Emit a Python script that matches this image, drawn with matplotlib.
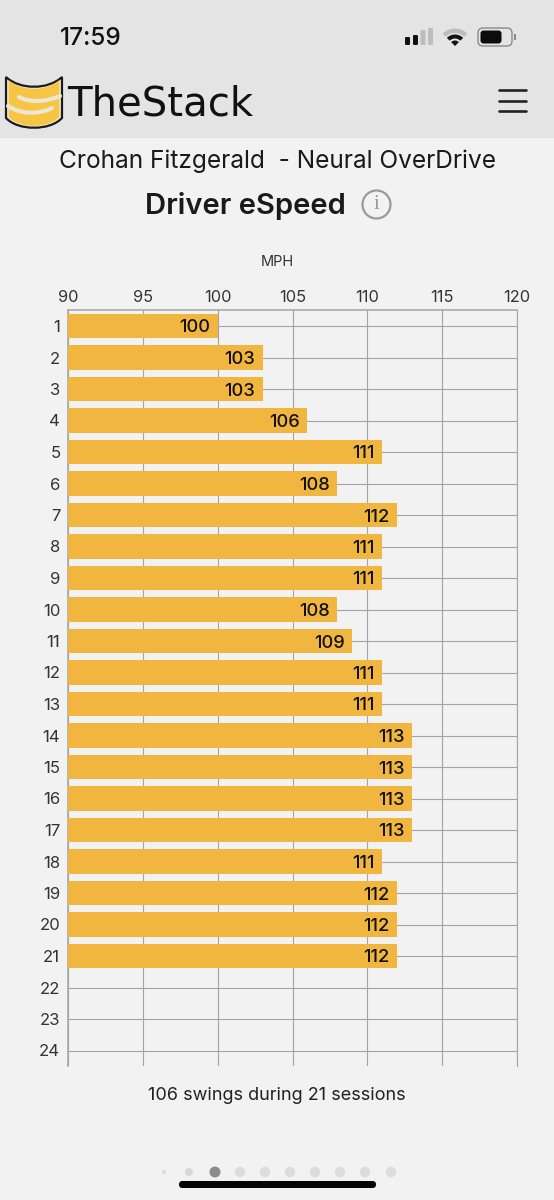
import matplotlib
matplotlib.use("Agg")
import matplotlib.pyplot as plt
from matplotlib.patches import Circle, FancyBboxPatch, PathPatch, Rectangle, Wedge
from matplotlib.path import Path
from matplotlib.transforms import Affine2D

plt.rcParams['font.family'] = ['Inter', 'DejaVu Sans']

sessions = list(range(1, 25))
speeds = [100, 103, 103, 106, 111, 108, 112, 111, 111, 108, 109,
          111, 111, 113, 113, 113, 113, 111, 112, 112, 112]
x_ticks = [90, 95, 100, 105, 110, 115, 120]

W = 554
H = 1200
BG = '#f2f2f2'
HEADER = '#e4e4e4'
BAR = '#f0b63f'
GRID = '#a4a4a4'
DARK = '#1a1a1a'

fig = plt.figure(figsize=(W / 100, H / 100), dpi=100, facecolor=BG)

# the chart itself, axes box given in pixels from the top left
left, right, top, bottom = 68.0, 517.0, 310.25, 1066.25
ax = fig.add_axes([left / W, 1 - bottom / H, (right - left) / W, (bottom - top) / H])
ax.set_facecolor('none')
ax.barh(sessions[:len(speeds)], speeds, height=0.785, color=BAR, left=0, zorder=3)
ax.set_xlim(x_ticks[0], x_ticks[-1])
ax.set_ylim(24.5, 0.5)
ax.set_xticks(x_ticks)
ax.set_yticks(sessions)
ax.xaxis.tick_top()
ax.tick_params(axis='x', length=0, pad=3.5, labelsize=11.8, labelcolor='#333333')
ax.tick_params(axis='y', length=0, pad=5.5, labelsize=12, labelcolor='#333333')
ax.grid(True, color=GRID, linewidth=0.8, zorder=0)
ax.set_axisbelow(True)
ax.spines['bottom'].set_visible(False)
ax.spines['right'].set_color(GRID)
ax.spines['right'].set_linewidth(0.8)
for name in ['top', 'left']:
    ax.spines[name].set_color(GRID)
    ax.spines[name].set_linewidth(1.1)
ax.spines['left'].set_zorder(2)
for row, speed in zip(sessions, speeds):
    ax.annotate(str(speed), (speed, row), xytext=(-5.5, 0), textcoords='offset points',
                ha='right', va='center_baseline', fontsize=13.2, fontweight='medium',
                color='#111111', zorder=4)

# page furniture is laid out in pixels on a full size overlay
page = fig.add_axes([0, 0, 1, 1], zorder=-1)
page.set_xlim(0, W)
page.set_ylim(H, 0)
page.axis('off')

page.add_patch(Rectangle((0, 0), W, 138, fc=HEADER, ec='none'))

# status bar
page.text(91, 38.5, '17:59', fontsize=17.5, fontweight='medium', color='#111111',
          ha='center', va='center')
for x, h, c in [(405, 8, '#111111'), (413, 10, '#111111'), (420.5, 15, '#bdbdbd'), (428, 17, '#bdbdbd')]:
    page.add_patch(FancyBboxPatch((x, 45 - h), 5, h, boxstyle='round,pad=0,rounding_size=1.2',
                                  fc=c, ec='none'))
page.add_patch(Wedge((455, 46), 17.5, 225, 315, width=4.5, fc='#bdbdbd', ec='none'))
page.add_patch(Wedge((455, 46), 11.5, 225, 315, width=4, fc='#111111', ec='none'))
page.add_patch(Wedge((455, 46), 5.5, 225, 315, fc='#111111', ec='none'))
page.add_patch(FancyBboxPatch((478, 28), 34, 18, boxstyle='round,pad=0,rounding_size=5',
                              fc='none', ec='#8a8a8a', lw=1))
page.add_patch(FancyBboxPatch((480.5, 30.5), 21, 13, boxstyle='round,pad=0,rounding_size=3',
                              fc='#0c0c0c', ec='none'))
page.add_patch(Rectangle((514, 34), 1.5, 6, fc='#8a8a8a', ec='none'))

# logo shield: pale rim, yellow field, two pale stripes
shield = Path([(6, 77), (20, 90), (48, 90), (62, 77), (62, 118), (62, 118),
               (50, 131), (18, 131), (6, 118), (6, 77)],
              [Path.MOVETO, Path.CURVE4, Path.CURVE4, Path.CURVE4, Path.LINETO, Path.LINETO,
               Path.CURVE4, Path.CURVE4, Path.CURVE4, Path.CLOSEPOLY])
page.add_patch(PathPatch(shield, fc='#ece6d2', ec='#1c1c1c', lw=1.6))
inner = shield.transformed(Affine2D().translate(-34, -103).scale(0.9, 0.9).translate(34, 103.5))
field = PathPatch(inner, fc='#f6c544', ec='none')
page.add_patch(field)
for pts in ([(19, 97), (30, 103), (46, 102), (60, 96)],
            [(8, 106), (20, 114), (38, 115), (52, 108)]):
    band = PathPatch(Path(pts, [Path.MOVETO, Path.CURVE4, Path.CURVE4, Path.CURVE4]),
                     fc='none', ec='#ece6d2', lw=3.0, capstyle='round')
    page.add_patch(band)
page.text(67, 116, 'TheStack', fontsize=29, family='DejaVu Sans', color='#111111',
          ha='left', va='baseline')

# menu icon
for y in [90, 101, 111]:
    page.plot([499, 526], [y, y], color='#222222', lw=1.9, solid_capstyle='round')

# headings
page.text(277.5, 161, 'Crohan Fitzgerald  - Neural OverDrive', fontsize=17.6, color=DARK,
          ha='center', va='center')
page.text(245.5, 206, 'Driver eSpeed', fontsize=21, fontweight='semibold', color=DARK,
          ha='center', va='center')
page.add_patch(Circle((376.5, 204.5), 14, fc='none', ec='#9a9a9a', lw=1.6))
page.text(376.5, 204.5, 'i', fontsize=15, family='Liberation Serif', color='#9a9a9a',
          ha='center', va='center')

page.text(277, 262, 'MPH', fontsize=10.5, color='#333333', ha='center', va='center')
page.text(277, 1095.5, '106 swings during 21 sessions', fontsize=13, color='#222222',
          ha='center', va='center')

# page indicator dots and home bar
dots_x = [164, 189, 215, 240, 265, 290, 315, 340, 365, 391]
dots_r = [2, 4, 5.5, 5.2, 5.2, 5.2, 5.2, 5.2, 5.2, 5.2]
dots_c = ['#dcdcdc', '#d8d8d8', '#8c8c8c'] + ['#dcdcdc'] * 7
for x, r, c in zip(dots_x, dots_r, dots_c):
    page.add_patch(Circle((x, 1172), r, fc=c, ec='none'))
page.add_patch(FancyBboxPatch((179, 1181), 197, 7, boxstyle='round,pad=0,rounding_size=3.5',
                              fc='#050505', ec='none'))

plt.savefig('out.png', dpi=100)
